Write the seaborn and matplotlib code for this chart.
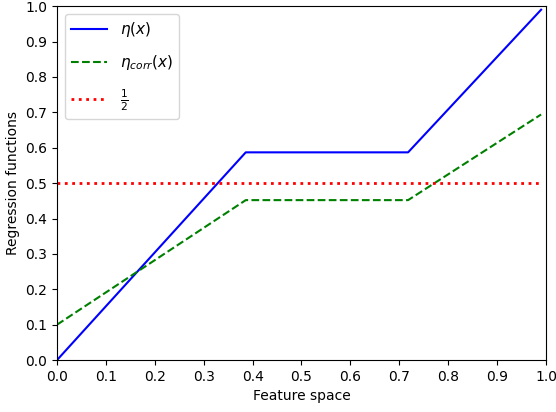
import matplotlib
matplotlib.use("Agg")
import matplotlib.pyplot as plt
import seaborn as sns
import pandas as pd

x_pts = [0.0, 0.386, 0.718, 0.99]
eta = [0.0, 0.587, 0.587, 0.99]
eta_corr = [0.1, 0.452, 0.452, 0.694]
half_x = [0.0, 0.99]
half_y = [0.5, 0.5]

fig = plt.figure(figsize=(5.56, 4.12), dpi=100)
ax = fig.add_axes([0.1025, 0.126, 0.8795, 0.859])

sns.lineplot(x=x_pts, y=eta, ax=ax, color="blue", linestyle="-", label=r"$\eta(x)$", linewidth=1.5)
sns.lineplot(x=x_pts, y=eta_corr, ax=ax, color="green", linestyle="--", label=r"$\eta_{corr}(x)$", linewidth=1.5)
sns.lineplot(x=half_x, y=half_y, ax=ax, color="red", linestyle=":", label=r"$\frac{1}{2}$", linewidth=2)

ax.set_xlim(0, 1)
ax.set_ylim(0, 1)
ax.set_xticks([i / 10 for i in range(11)])
ax.set_yticks([i / 10 for i in range(11)])
ax.set_xlabel("Feature space")
ax.set_ylabel("Regression functions")
ax.legend(loc="upper left", handlelength=2.4, labelspacing=0.95, fontsize=11)
fig.savefig("out.png", dpi=100)
